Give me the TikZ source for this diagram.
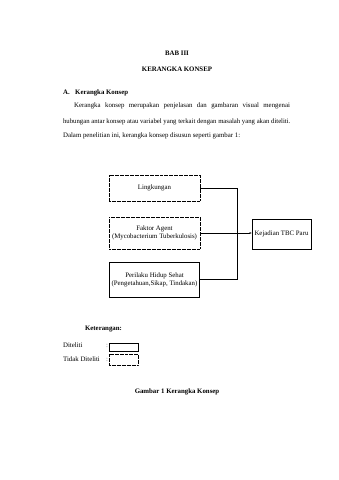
\documentclass[tikz,border=0pt]{standalone}
\usepackage{fontspec}
\setmainfont{Liberation Serif}
\usetikzlibrary{arrows.meta,calc}
\begin{document}
\begin{tikzpicture}[x=1.7557pt,y=-1.7557pt,
  txt/.style={inner sep=0pt,font=\fontsize{12}{14}\selectfont},
  btxt/.style={inner sep=0pt,font=\fontsize{12}{14}\selectfont\bfseries},
  box/.style={draw,inner sep=0pt,align=center,font=\fontsize{12}{14}\selectfont,line width=0.6pt},
  dbox/.style={box,dash pattern=on 1.1pt off 1.1pt},
  conn/.style={line width=0.9pt},
]
\useasboundingbox[fill=white] (0,0) rectangle (339,480);
% headings
\node[btxt,anchor=base] (bab) at (177,55.5) {BAB III};
\node[btxt,anchor=base] (judul) at (177,71.5) {KERANGKA KONSEP};
\node[btxt,anchor=base west] (sub) at (63,94.5) {A.\hspace{0.8em}Kerangka Konsep};
% paragraph
\node[txt,anchor=base west] (p1) at (74,107.5) {\makebox[379pt][s]{Kerangka konsep merupakan penjelasan dan gambaran visual mengenai}};
\node[txt,anchor=base west] (p2) at (63,123) {\resizebox{399pt}{!}{hubungan antar konsep atau variabel yang terkait dengan masalah yang akan diteliti.}};
\node[txt,anchor=base west] (p3) at (63,137) {Dalam penelitian ini, kerangka konsep disusun seperti gambar 1:};
% diagram
\node[dbox,minimum width=91*1.7557pt,minimum height=26*1.7557pt] (ling) at (154.5,188) {Lingkungan};
\node[dbox,minimum width=91*1.7557pt,minimum height=32*1.7557pt] (agent) at (154.5,233) {Faktor Agent\\(Mycobacterium Tuberkulosis)};
\node[box,line width=0.9pt,minimum width=90*1.7557pt,minimum height=35*1.7557pt] (peri) at (154.5,279.5) {Perilaku Hidup Sehat\\(Pengetahuan,Sikap, Tindakan)};
\node[box,minimum width=59*1.7557pt,minimum height=30*1.7557pt] (tbc) at (281.5,234) {Kejadian TBC Paru};
\coordinate (vx) at (237,0);
\draw[conn] (ling.east) -- (ling.east -| vx) -- (peri.east -| vx) -- (peri.east);
\draw[conn,-{Latex[length=4pt,width=3.5pt]}] (agent.east) -- (agent.east -| tbc.west);
% legend
\node[btxt,anchor=base west] (ket) at (85,330) {Keterangan:};
\node[txt,anchor=base west] (dit) at (63,347) {Diteliti};
\node[txt,anchor=base west] (tdit) at (63,361) {Tidak Diteliti};
\node[txt,anchor=base,text=black!55] (c1) at (107,347) {:};
\node[txt,anchor=base,text=black!55] (c2) at (107,361) {:};
\node[box,minimum width=29*1.7557pt,minimum height=8.5*1.7557pt] (lbox1) at (123.5,347) {};
\node[dbox,minimum width=29*1.7557pt,minimum height=11*1.7557pt] (lbox2) at (123.5,359.5) {};
\node[btxt,anchor=base] (cap) at (177,393) {Gambar 1 Kerangka Konsep};
\end{tikzpicture}
\end{document}
